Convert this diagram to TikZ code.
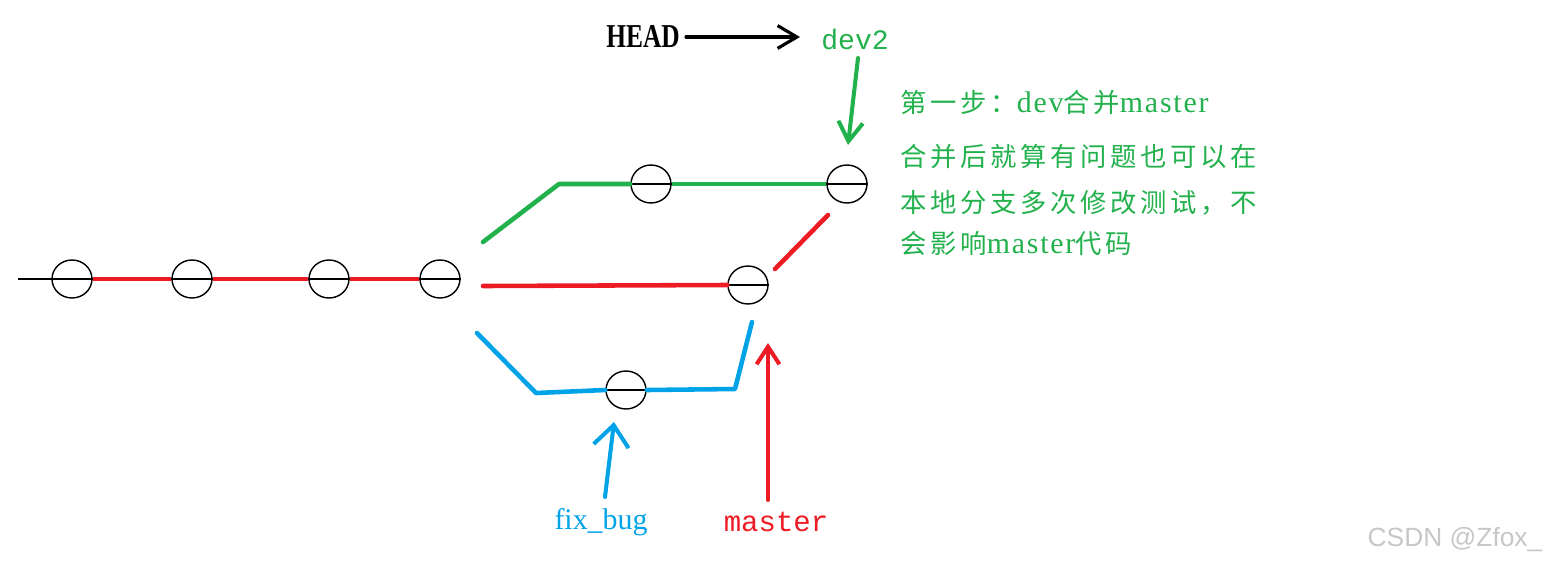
\documentclass[tikz,border=0pt]{standalone}
\usepackage{fontspec}
\setmainfont{Liberation Serif}
\newfontfamily\cjk[LetterSpace=14]{Noto Sans CJK SC}
\newfontfamily\latf[LetterSpace=6]{Liberation Serif}
\newfontfamily\monof{Liberation Mono}
\newfontfamily\wmf{Liberation Sans}
\usetikzlibrary{arrows.meta,shapes.geometric}
\definecolor{pgreen}{RGB}{34,177,76}
\definecolor{pred}{RGB}{237,28,36}
\definecolor{pblue}{RGB}{0,162,232}
\newcommand{\lw}[1]{{\latf\fontsize{17pt}{17pt}\selectfont #1}}
\begin{document}
\begin{tikzpicture}[x=0.02cm,y=-0.02cm,
  commit/.style={ellipse,draw=black,line width=0.8pt,minimum width=0.8cm,minimum height=0.76cm,inner sep=0pt},
  diam/.style={black,line width=0.8pt},
  rline/.style={pred,line width=2.6pt},
  gline/.style={pgreen,line width=2.6pt},
  bline/.style={pblue,line width=2.6pt,line join=round},
  parrow/.style={line width=2.3pt,line cap=round},
  txt/.style={inner sep=0pt,anchor=base west},
]
\useasboundingbox (0,0) rectangle (1548,565);
% commits
\node[commit] (c1) at (72,279) {};
\node[commit] (c2) at (192,279) {};
\node[commit] (c3) at (329,279) {};
\node[commit] (c4) at (440,279) {};
\node[commit] (g1) at (651,184) {};
\node[commit] (g2) at (847,184) {};
\node[commit] (r1) at (748,285) {};
\node[commit] (b1) at (626,390) {};
\foreach \n in {c1,c2,c3,c4,g1,g2,r1,b1} {\draw[diam] (\n.west) -- (\n.east);}
% main line
\coordinate (start) at (18,279);
\draw[diam] (start) -- (c1.west);
\draw[rline] (c1.east) -- (c2.west);
\draw[rline] (c2.east) -- (c3.west);
\draw[rline] (c3.east) -- (c4.west);
% green branch
\coordinate (gs) at (483,242);
\coordinate (gk) at (559,184);
\draw[gline,line cap=round,line join=round] (gs) -- (gk) -- (g1.west);
\draw[gline] (g1.east) -- (g2.west);
% red branch
\coordinate (rs) at (483,286);
\draw[rline,line cap=round] (rs) -- (r1.west);
\coordinate (ra) at (775,269);
\coordinate (rb) at (828,215);
\draw[rline,line cap=round] (ra) -- (rb);
% blue branch
\coordinate (bs) at (477,333);
\coordinate (bk) at (536,393);
\coordinate (bm) at (735,389);
\coordinate (be) at (752,322);
\draw[bline,line cap=round] (bs) -- (bk) -- (b1.west);
\draw[bline,line cap=round] (b1.east) -- (bm) -- (be);
% labels
\node[font=\bfseries\fontsize{19pt}{20pt}\selectfont,inner sep=0pt] (head) at (643,37) {\scalebox{0.76}[1]{HEAD}};
\node[font=\monof\fontsize{16pt}{18pt}\selectfont,text=pgreen,inner sep=0pt] (dev2) at (855,39) {dev2};
\node[font=\fontsize{17pt}{19pt}\selectfont,text=pblue,inner sep=0pt] (fixbug) at (601,522) {fix\_bug};
\node[font=\monof\fontsize{16.5pt}{18pt}\selectfont,text=pred,inner sep=0pt] (master) at (776,522) {master};
% arrows
\coordinate (headtip) at (800,37);
\draw[parrow,line width=1.8pt,-{Straight Barb[length=11pt,width=13pt]}] (head.east) ++(6,0) -- (headtip);
\coordinate (dtail) at (858,58);
\coordinate (dtip) at (848,145);
\draw[parrow,pgreen,-{Straight Barb[length=11pt,width=14pt]}] (dtail) -- (dtip);
\coordinate (ftail) at (605,497);
\coordinate (ftip) at (614,422);
\draw[parrow,pblue,-{Straight Barb[length=12pt,width=20pt]}] (ftail) -- (ftip);
\coordinate (mtail) at (768,500);
\coordinate (mtip) at (768,343);
\draw[parrow,pred,-{Straight Barb[length=10pt,width=13pt]}] (mtail) -- (mtip);
% explanation text
\begin{scope}[every node/.style={txt,text=pgreen,font=\cjk\fontsize{15pt}{17pt}\selectfont}]
\node (t1) at (900,112) {第一步：\lw{dev}合并\lw{master}};
\node (t2) at (900,166) {合并后就算有问题也可以在};
\node (t3) at (900,212) {本地分支多次修改测试，不};
\node (t4) at (900,253) {会影响\lw{master}代码};
\end{scope}
\node[font=\wmf\fontsize{15pt}{17pt}\selectfont,text=black!22,inner sep=0pt] (wm) at (1455,540) {CSDN @Zfox\_};
\end{tikzpicture}
\end{document}
